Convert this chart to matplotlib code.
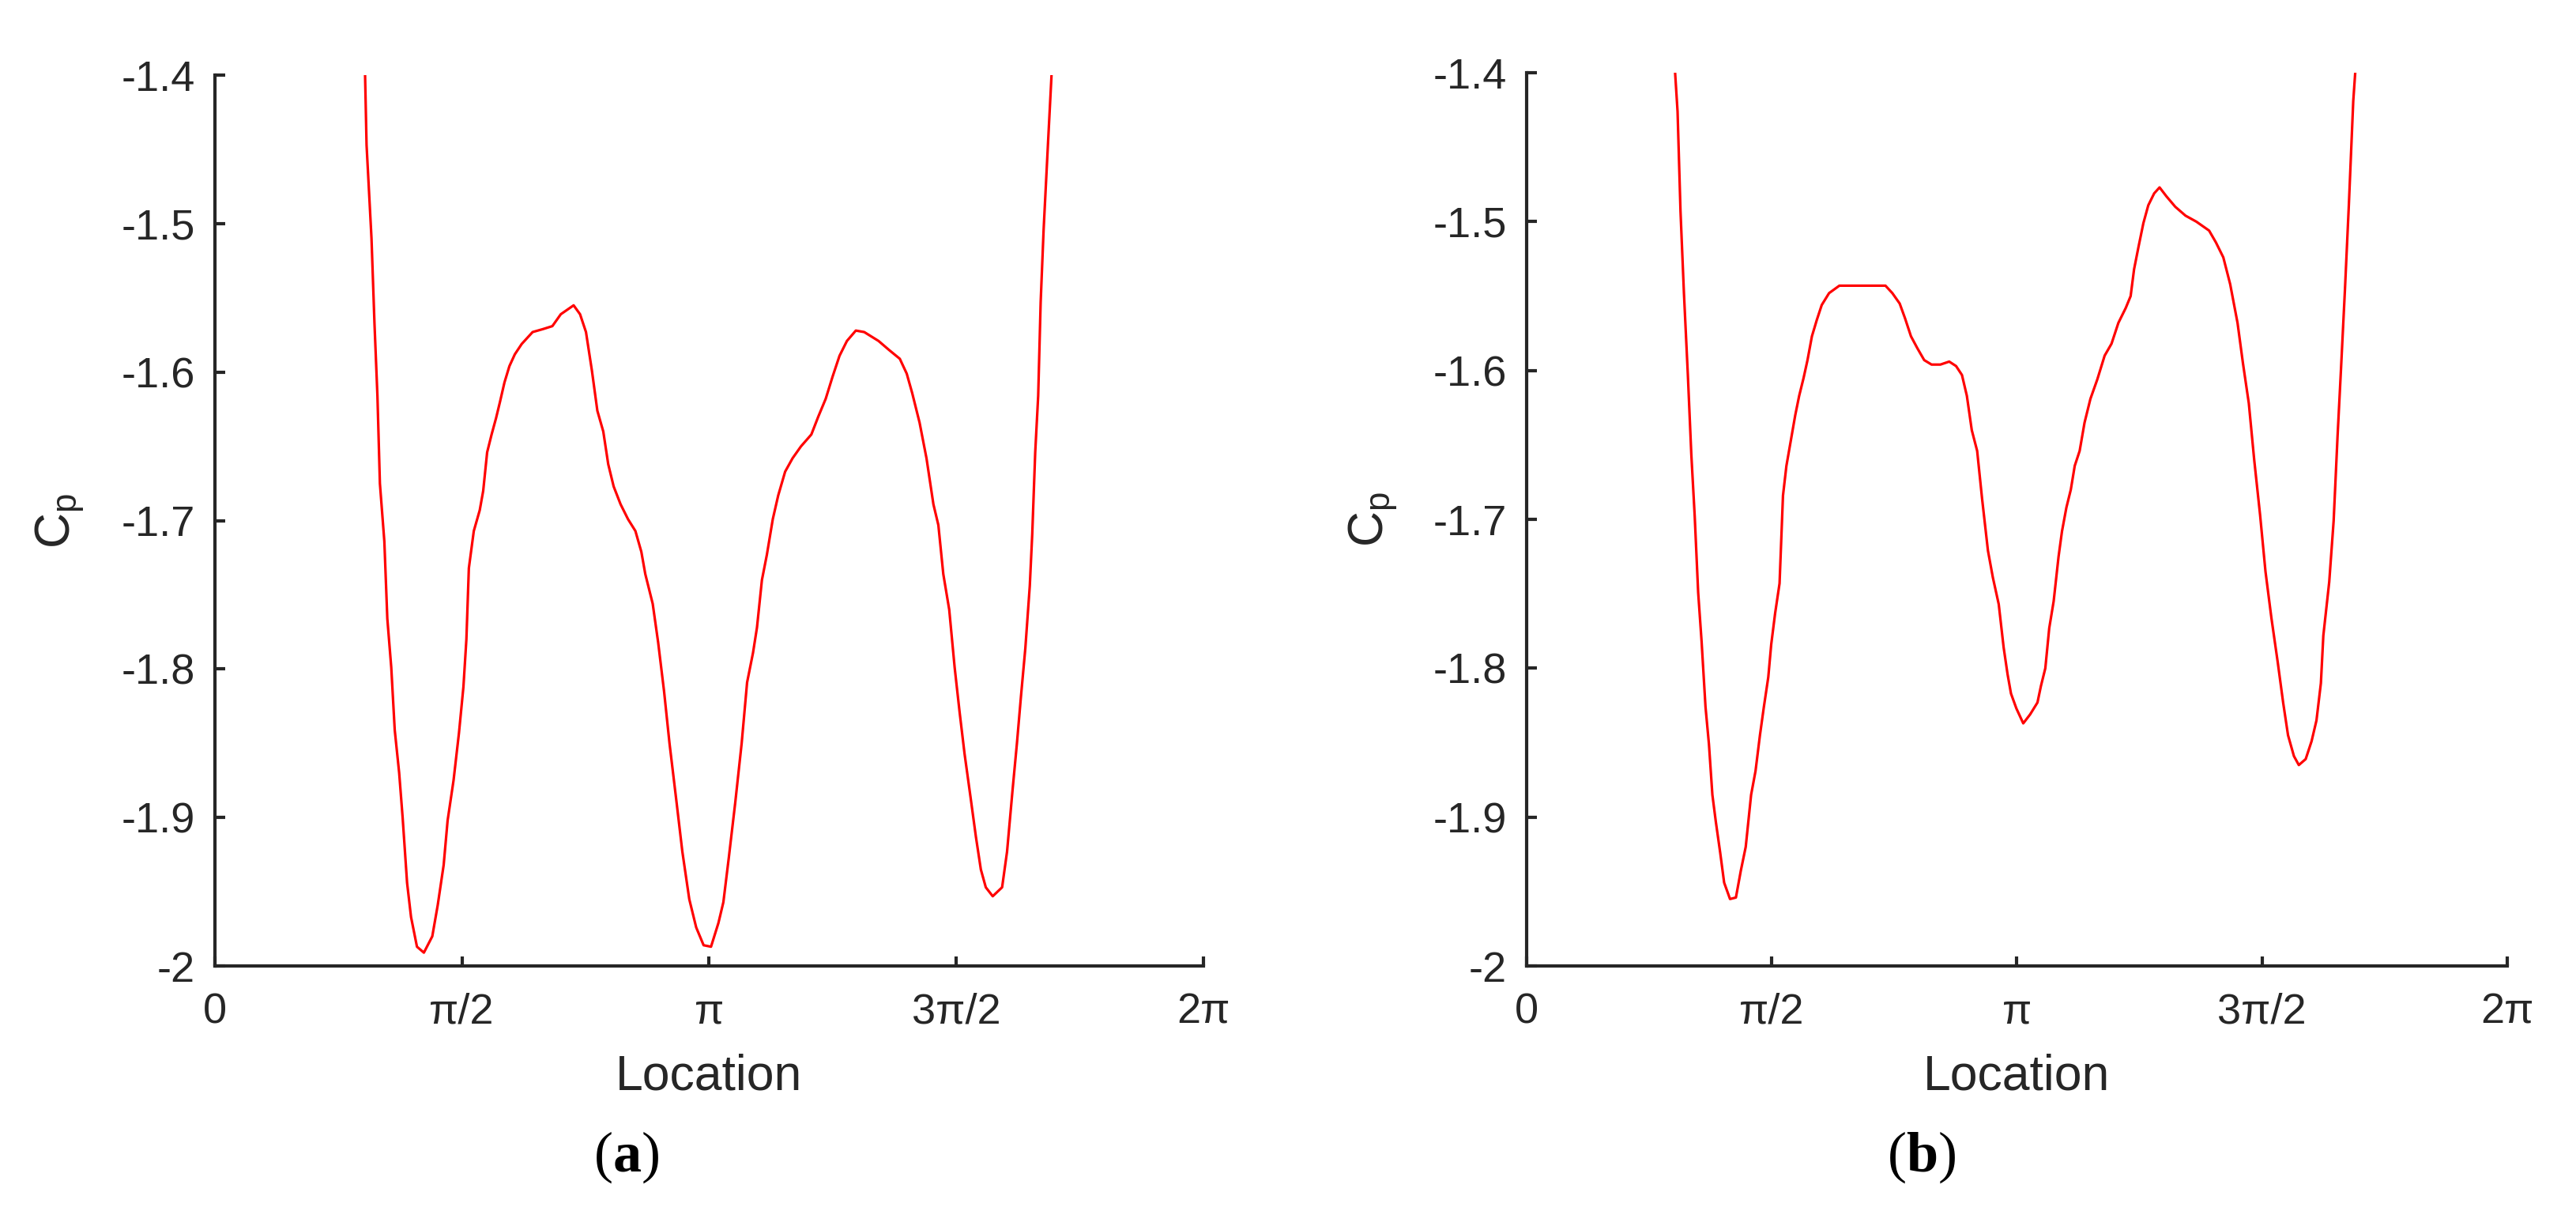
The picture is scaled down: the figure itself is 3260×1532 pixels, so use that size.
import numpy as np
import matplotlib
matplotlib.use("Agg")
from matplotlib import pyplot as plt

# location along the circumference, in units of pi
loc_a = [0.304, 0.307, 0.317, 0.323, 0.329, 0.334, 0.343, 0.349, 0.357, 0.364,
         0.373, 0.380, 0.389, 0.397, 0.409, 0.423, 0.440, 0.451, 0.463, 0.471,
         0.483, 0.494, 0.503, 0.509, 0.514, 0.524, 0.536, 0.543, 0.551, 0.560,
         0.569, 0.577, 0.586, 0.596, 0.607, 0.621, 0.643, 0.664, 0.683, 0.700,
         0.726, 0.739, 0.751, 0.763, 0.774, 0.786, 0.796, 0.807, 0.821, 0.836,
         0.851, 0.863, 0.871, 0.886, 0.897, 0.909, 0.920, 0.934, 0.946, 0.960,
         0.974, 0.989, 1.004, 1.019, 1.029, 1.040, 1.053, 1.066, 1.077, 1.089,
         1.097, 1.107, 1.117, 1.129, 1.140, 1.154, 1.169, 1.186, 1.207, 1.221,
         1.236, 1.250, 1.264, 1.279, 1.297, 1.314, 1.343, 1.364, 1.386, 1.400,
         1.411, 1.426, 1.440, 1.454, 1.464, 1.474, 1.486, 1.497, 1.507, 1.517,
         1.529, 1.540, 1.550, 1.560, 1.574, 1.593, 1.603, 1.614, 1.623, 1.631,
         1.640, 1.649, 1.654, 1.660, 1.666, 1.671, 1.677, 1.686, 1.693]
cp_a = [-1.400, -1.447, -1.510, -1.567, -1.616, -1.675, -1.714, -1.766, -1.799, -1.841,
        -1.870, -1.900, -1.944, -1.967, -1.987, -1.991, -1.980, -1.959, -1.932, -1.902,
        -1.875, -1.843, -1.812, -1.780, -1.732, -1.707, -1.693, -1.680, -1.654, -1.642,
        -1.631, -1.620, -1.607, -1.596, -1.588, -1.581, -1.573, -1.571, -1.569, -1.561,
        -1.555, -1.561, -1.573, -1.599, -1.626, -1.640, -1.662, -1.677, -1.689, -1.699,
        -1.707, -1.721, -1.736, -1.756, -1.782, -1.815, -1.850, -1.889, -1.923, -1.955,
        -1.974, -1.986, -1.987, -1.971, -1.957, -1.927, -1.890, -1.850, -1.809, -1.789,
        -1.772, -1.740, -1.723, -1.699, -1.683, -1.667, -1.658, -1.650, -1.642, -1.630,
        -1.618, -1.603, -1.589, -1.579, -1.572, -1.573, -1.579, -1.585, -1.591, -1.601,
        -1.614, -1.634, -1.658, -1.689, -1.703, -1.736, -1.760, -1.799, -1.829, -1.857,
        -1.886, -1.913, -1.935, -1.947, -1.953, -1.947, -1.923, -1.882, -1.850, -1.819,
        -1.786, -1.744, -1.709, -1.654, -1.616, -1.553, -1.504, -1.445, -1.400]

loc_b = [0.303, 0.308, 0.314, 0.321, 0.329, 0.336, 0.343, 0.350, 0.357, 0.365,
         0.372, 0.379, 0.386, 0.395, 0.403, 0.415, 0.427, 0.437, 0.447, 0.458,
         0.467, 0.476, 0.484, 0.493, 0.499, 0.507, 0.516, 0.523, 0.530, 0.539,
         0.548, 0.556, 0.565, 0.573, 0.582, 0.592, 0.602, 0.617, 0.638, 0.674,
         0.732, 0.746, 0.761, 0.772, 0.784, 0.797, 0.811, 0.826, 0.844, 0.862,
         0.876, 0.888, 0.898, 0.908, 0.919, 0.929, 0.941, 0.951, 0.963, 0.973,
         0.981, 0.988, 0.999, 1.013, 1.027, 1.042, 1.049, 1.058, 1.066, 1.075,
         1.085, 1.092, 1.101, 1.110, 1.118, 1.128, 1.138, 1.150, 1.164, 1.179,
         1.193, 1.207, 1.222, 1.232, 1.239, 1.248, 1.258, 1.268, 1.280, 1.291,
         1.305, 1.323, 1.344, 1.366, 1.392, 1.406, 1.421, 1.435, 1.450, 1.461,
         1.473, 1.484, 1.496, 1.507, 1.519, 1.532, 1.543, 1.553, 1.565, 1.575,
         1.589, 1.601, 1.611, 1.620, 1.625, 1.637, 1.646, 1.654, 1.661, 1.669,
         1.677, 1.686, 1.690]
cp_b = [-1.400, -1.426, -1.493, -1.548, -1.603, -1.656, -1.698, -1.749, -1.782, -1.826,
        -1.851, -1.885, -1.903, -1.924, -1.944, -1.955, -1.954, -1.936, -1.920, -1.885,
        -1.869, -1.845, -1.826, -1.806, -1.784, -1.763, -1.743, -1.684, -1.664, -1.647,
        -1.630, -1.617, -1.605, -1.593, -1.577, -1.566, -1.556, -1.548, -1.543, -1.543,
        -1.543, -1.548, -1.555, -1.565, -1.577, -1.585, -1.593, -1.596, -1.596, -1.594,
        -1.597, -1.603, -1.617, -1.640, -1.654, -1.686, -1.721, -1.739, -1.757, -1.786,
        -1.804, -1.817, -1.827, -1.837, -1.831, -1.823, -1.812, -1.800, -1.773, -1.755,
        -1.725, -1.708, -1.692, -1.680, -1.664, -1.654, -1.635, -1.619, -1.606, -1.590,
        -1.582, -1.568, -1.558, -1.550, -1.532, -1.517, -1.501, -1.489, -1.481, -1.477,
        -1.483, -1.490, -1.496, -1.500, -1.506, -1.514, -1.524, -1.542, -1.568, -1.595,
        -1.622, -1.660, -1.697, -1.735, -1.766, -1.796, -1.823, -1.845, -1.859, -1.865,
        -1.861, -1.849, -1.835, -1.810, -1.778, -1.742, -1.701, -1.644, -1.599, -1.546,
        -1.489, -1.419, -1.400]

x_ticks = [0, 0.5, 1, 1.5, 2]
x_tick_labels = ["0", "π/2", "π", "3π/2", "2π"]
y_ticks = [-2, -1.9, -1.8, -1.7, -1.6, -1.5, -1.4]
y_tick_labels = ["-2", "-1.9", "-1.8", "-1.7", "-1.6", "-1.5", "-1.4"]
panel_labels = ["a", "b"]

plt.rcParams["font.family"] = ["Liberation Sans", "DejaVu Sans"]
plt.rcParams["mathtext.fontset"] = "custom"
plt.rcParams["mathtext.rm"] = "Liberation Sans"
plt.rcParams["mathtext.bf"] = "Liberation Serif:bold"

dark = "#262626"


def style_axes(ax):
    ax.set_xlim(0, 2 * np.pi)
    ax.set_ylim(-2, -1.4)
    ax.set_xticks(np.array(x_ticks) * np.pi)
    ax.set_xticklabels(x_tick_labels)
    ax.set_yticks(y_ticks)
    ax.set_yticklabels(y_tick_labels)
    for side in ["top", "right"]:
        ax.spines[side].set_visible(False)
    for side in ["left", "bottom"]:
        ax.spines[side].set_linewidth(3)
        ax.spines[side].set_color(dark)
    ax.tick_params(direction="in", length=9, width=3, color=dark,
                   labelcolor=dark, labelsize=39)
    ax.tick_params(axis="x", pad=24)
    ax.tick_params(axis="y", pad=18)
    ax.set_xlabel("Location", fontsize=45, color=dark)
    ax.set_ylabel(r"$\mathrm{C_p}$", fontsize=45, color=dark)
    ax.xaxis.set_label_coords(0.5, -0.098)
    ax.yaxis.set_label_coords(-0.13, 0.5)


fig = plt.figure(figsize=(32.6, 15.32), dpi=100)
ax1 = fig.add_axes([0.0834, 0.2023, 0.3837, 0.7356])
ax2 = fig.add_axes([0.5926, 0.2023, 0.3807, 0.7376])

ax1.plot(np.array(loc_a) * np.pi, cp_a, color="#ff0000", linewidth=2.3)
ax2.plot(np.array(loc_b) * np.pi, cp_b, color="#ff0000", linewidth=2.3)
style_axes(ax1)
style_axes(ax2)

for xpos, lab in zip([0.243, 0.746], panel_labels):
    fig.text(xpos, 0.044, "(" + r"$\mathbf{" + lab + "}$" + ")",
             family="Liberation Serif", fontsize=52, color="black",
             ha="center", va="center")

fig.savefig("out.png", dpi=100)
